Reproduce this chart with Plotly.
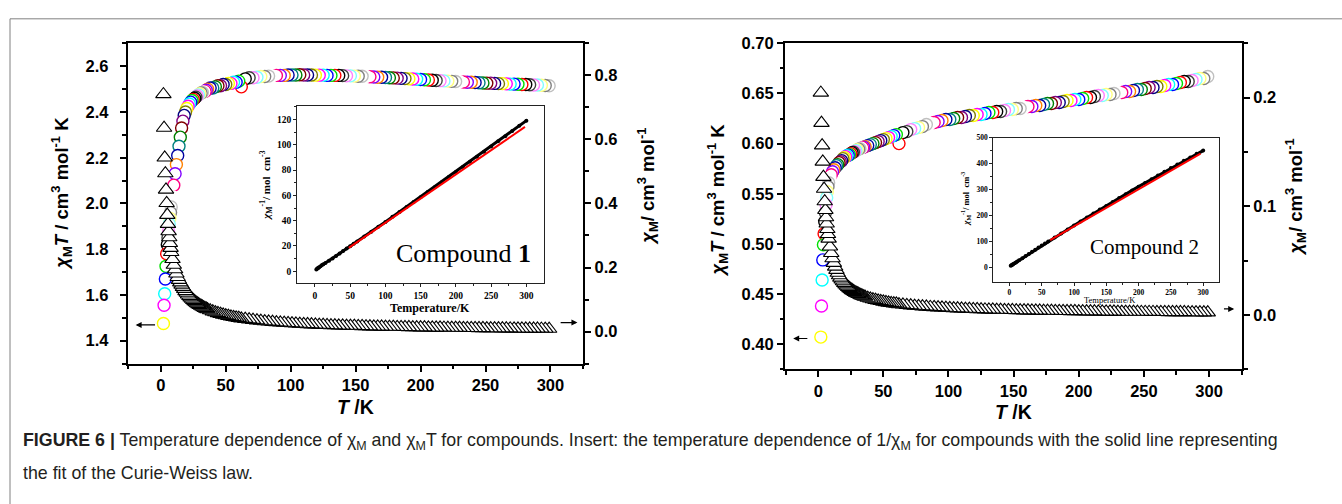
import plotly.graph_objects as go

W, H = 1342, 504

# ---------------- data ----------------
temperature = [2, 2.5, 3, 3.5, 4, 4.5, 5, 5.5, 6, 6.5, 7, 7.5, 8,
               9, 10, 11, 12, 13, 14, 15, 16, 17, 18, 19, 20,
               21, 22, 23, 24, 25, 26, 27, 28, 29, 30, 31, 32, 33, 34, 35, 36,
               38, 40, 42, 44, 46, 48, 50, 52, 54, 56, 58, 60,
               62, 65, 68, 71, 74, 77, 80, 83, 86, 89, 92, 95, 98, 101, 104, 107, 110, 113, 116, 119,
               122, 125, 128, 131, 134, 137, 140, 143, 146, 149, 152, 155, 158, 161, 164, 167, 170, 173, 176, 179,
               182, 185, 188, 191, 194, 197, 200, 203, 206, 209, 212, 215, 218, 221, 224, 227, 230, 233, 236, 239,
               242, 245, 248, 251, 254, 257, 260, 263, 266, 269, 272, 275, 278, 281, 284, 287, 290, 293, 296, 299]

# compound 1 : chi_M*T (left axis, circles)
chiT_1 = [1.475, 1.555, 1.605, 1.67, 1.725, 1.78, 1.82, 1.85, 1.88, 1.91, 1.935, 1.96, 1.985,
          2.03, 2.08, 2.13, 2.17, 2.21, 2.25, 2.29, 2.33, 2.36, 2.385, 2.40, 2.415,
          2.425, 2.435, 2.443, 2.45, 2.455, 2.46, 2.465, 2.47, 2.475, 2.48, 2.483, 2.485, 2.488, 2.49, 2.495, 2.50,
          2.505, 2.505, 2.51, 2.515, 2.515, 2.52, 2.52, 2.525, 2.525, 2.53, 2.53, 2.535,
          2.51, 2.545, 2.55, 2.55, 2.552, 2.555, 2.555, 2.557, 2.558, 2.56,
          2.56, 2.56, 2.562, 2.562, 2.562, 2.563, 2.562, 2.562, 2.562, 2.561,
          2.561, 2.561, 2.56, 2.56, 2.56, 2.56, 2.559, 2.558, 2.558, 2.557,
          2.556, 2.556, 2.555, 2.554, 2.553, 2.552, 2.552, 2.551, 2.55, 2.549,
          2.548, 2.547, 2.546, 2.545, 2.544, 2.543, 2.542, 2.541, 2.54, 2.539,
          2.538, 2.537, 2.536, 2.535, 2.534, 2.533, 2.532, 2.531, 2.53, 2.53,
          2.529, 2.528, 2.527, 2.526, 2.526, 2.525, 2.524, 2.524, 2.523, 2.522,
          2.522, 2.521, 2.52, 2.52, 2.519, 2.518, 2.518, 2.517, 2.516, 2.515]

# compound 1 : chi_M (right axis, triangles)
chi_1 = [0.741, 0.636, 0.543, 0.494, 0.443, 0.401, 0.364, 0.336, 0.313, 0.294, 0.276, 0.261, 0.248,
         0.226, 0.208, 0.194, 0.181, 0.170, 0.161, 0.153, 0.146, 0.139, 0.133, 0.126, 0.121,
         0.1155, 0.1107, 0.1062, 0.1021, 0.0982, 0.0946, 0.0913, 0.0882, 0.0853, 0.0827, 0.0801, 0.0777,
         0.0754, 0.0732, 0.0713, 0.0694,
         0.0659, 0.0626, 0.0598, 0.0572, 0.0547, 0.0525, 0.0504, 0.0486, 0.0468, 0.0452, 0.0436, 0.0423,
         0.0405, 0.0392, 0.0375, 0.0360, 0.0345, 0.0332, 0.0319, 0.0308, 0.0297, 0.0287,
         0.0278, 0.0269, 0.0261, 0.0253, 0.0246, 0.0239, 0.0233, 0.0227, 0.0221, 0.0215,
         0.0210, 0.0205, 0.0200, 0.0195, 0.0191, 0.0187, 0.0183, 0.0179, 0.0175, 0.0172,
         0.0168, 0.0165, 0.0162, 0.0159, 0.0156, 0.0153, 0.0150, 0.0148, 0.0145, 0.0143,
         0.0140, 0.0138, 0.0136, 0.0134, 0.0131, 0.0129, 0.0127, 0.0126, 0.0124, 0.0122,
         0.0120, 0.0118, 0.0117, 0.0115, 0.0113, 0.0112, 0.0110, 0.0109, 0.0107, 0.0106,
         0.0105, 0.0103, 0.0102, 0.0101, 0.00995, 0.00983, 0.00972, 0.00960, 0.00949, 0.00938,
         0.00928, 0.00918, 0.00908, 0.00898, 0.00888, 0.00879, 0.00869, 0.00860, 0.00851, 0.00842]

# compound 2 : chi_M*T
chiT_2 = [0.407, 0.438, 0.464, 0.484, 0.499, 0.510, 0.522, 0.531, 0.539, 0.546, 0.552, 0.557, 0.561,
          0.566, 0.569, 0.572, 0.574, 0.576, 0.578, 0.579, 0.581, 0.582, 0.583, 0.585, 0.586,
          0.587, 0.588, 0.5885, 0.589, 0.590, 0.591, 0.5915, 0.592, 0.593, 0.594, 0.5945, 0.595, 0.5955, 0.596,
          0.5965, 0.597,
          0.598, 0.599, 0.600, 0.601, 0.602, 0.603, 0.604, 0.605, 0.606, 0.607, 0.608, 0.609,
          0.600, 0.611, 0.612, 0.614, 0.615, 0.616, 0.617, 0.619, 0.620, 0.621,
          0.622, 0.623, 0.624, 0.624, 0.625, 0.626, 0.626, 0.627, 0.628, 0.628,
          0.629, 0.629, 0.630, 0.631, 0.631, 0.632, 0.632, 0.633, 0.634, 0.634,
          0.635, 0.635, 0.636, 0.637, 0.637, 0.638, 0.638, 0.639, 0.640, 0.640,
          0.641, 0.641, 0.642, 0.643, 0.643, 0.644, 0.644, 0.645, 0.646, 0.646,
          0.647, 0.648, 0.648, 0.649, 0.649, 0.650, 0.651, 0.651, 0.652, 0.652,
          0.653, 0.654, 0.654, 0.655, 0.656, 0.656, 0.657, 0.657, 0.658, 0.659,
          0.659, 0.660, 0.661, 0.662, 0.662, 0.663, 0.664, 0.665, 0.665, 0.667]

# compound 2 : chi_M
chi_2 = [0.2045, 0.1767, 0.156, 0.141, 0.127, 0.116, 0.1045, 0.0965, 0.0898, 0.0840, 0.0789, 0.0743, 0.0701,
         0.0629, 0.0569, 0.0520, 0.0478, 0.0443, 0.0413, 0.0386, 0.0363, 0.0342, 0.0324, 0.0308, 0.0293,
         0.0280, 0.0267, 0.0256, 0.0245, 0.0236, 0.0227, 0.0219, 0.0211, 0.0204, 0.0198, 0.0192, 0.0186,
         0.0180, 0.0175, 0.0170, 0.0166,
         0.0157, 0.0150, 0.0143, 0.0137, 0.0131, 0.0126, 0.0121, 0.0116, 0.0112, 0.0108, 0.0105, 0.0102,
         0.0097, 0.0094, 0.0090, 0.0086, 0.0083, 0.0080, 0.0077, 0.0075, 0.0072, 0.0070,
         0.0068, 0.0066, 0.0064, 0.0062, 0.0060, 0.0059, 0.0057, 0.0055, 0.0054, 0.0053,
         0.0052, 0.0050, 0.0049, 0.0048, 0.0047, 0.0046, 0.0045, 0.0044, 0.0043, 0.0043,
         0.0042, 0.0041, 0.0040, 0.0040, 0.0039, 0.0038, 0.0038, 0.0037, 0.0036, 0.0036,
         0.0035, 0.0035, 0.0034, 0.0034, 0.0033, 0.0033, 0.0032, 0.0032, 0.0031, 0.0031,
         0.0031, 0.0030, 0.0030, 0.0029, 0.0029, 0.0029, 0.0028, 0.0028, 0.0028, 0.0027,
         0.0027, 0.0027, 0.0026, 0.0026, 0.0026, 0.0026, 0.0025, 0.0025, 0.0025, 0.0024,
         0.0024, 0.0024, 0.0024, 0.0024, 0.0023, 0.0023, 0.0023, 0.0023, 0.0022, 0.0022]

# insets : 1/chi_M vs T
inset_T = [2, 3, 4, 5, 6, 8, 10, 12, 15, 20, 25, 30, 35, 40, 45, 50, 55, 60, 70, 80, 90,
           100, 110, 120, 130, 140, 150, 160, 170, 180, 190, 200, 210, 220, 230, 240, 250,
           260, 270, 280, 290, 300]
inv_chi_1 = [1.36, 1.87, 2.32, 2.75, 3.19, 3.98, 4.81, 5.53, 6.55, 8.28, 10.1, 12.1, 14.0, 15.9, 17.9,
             19.8, 21.7, 23.6, 27.5, 31.3, 35.2, 39.0, 43.0, 46.9, 50.8, 54.7, 58.6, 62.6, 66.5, 70.5,
             74.5, 78.5, 82.5, 86.6, 90.6, 94.6, 98.7, 102.8, 106.9, 111.0, 115.1, 119.2]
inv_chi_2 = [4.9, 6.5, 8.0, 9.6, 11.1, 14.3, 17.6, 20.9, 25.9, 34.1, 42.4, 50.5, 58.6, 66.8, 74.9,
             82.8, 90.8, 98.5, 114.3, 129.7, 145.0, 160.3, 175.7, 191.1, 206.7, 221.9, 236.2, 251.4, 266.5, 281.3,
             296.2, 310.6, 324.6, 339.5, 353.8, 368.1, 382.3, 396.3, 410.6, 423.6, 437.5, 450.0]
fit_T_1 = [48, 298]
fit_inv_1 = [18.4, 114.2]
fit_T_2 = [63, 296]
fit_inv_2 = [104, 438]

# tick labels
x_ticks = [0, 50, 100, 150, 200, 250, 300]
y1_ticks = [1.4, 1.6, 1.8, 2.0, 2.2, 2.4, 2.6]
y2_ticks = [0.0, 0.2, 0.4, 0.6, 0.8]
y3_ticks = [0.40, 0.45, 0.50, 0.55, 0.60, 0.65, 0.70]
y4_ticks = [0.0, 0.1, 0.2]
in1_y_ticks = [0, 20, 40, 60, 80, 100, 120]
in2_y_ticks = [0, 100, 200, 300, 400, 500]

# Origin default colour cycle
origin_colors = ["#000000", "#FF0000", "#00E000", "#0000FF", "#00FFFF", "#FF00FF", "#FFFF00", "#808000",
                 "#000080", "#800080", "#800000", "#008000", "#008080", "#0000A0", "#FF8000", "#8000FF",
                 "#FF0080", "#FFFFFF", "#C0C0C0", "#808080", "#FFFF80", "#80FFFF", "#FF80FF", "#404040"]

SANS = "Liberation Sans, Arial, Helvetica, sans-serif"
SERIF = "Liberation Serif, Times New Roman, serif"


def xd(a, b):
    return [a / W, b / W]


def yd(top, bot):
    return [1 - bot / H, 1 - top / H]


def px(v):
    return v / W


def py(v):
    return 1 - v / H


# measured-order colours: the lowest temperature point is yellow
n = len(temperature)
circle_cols = [origin_colors[(6 - i) % 24] for i in range(n)]

fig = go.Figure()

# main panel circles/triangles drawn from high T to low T (later points on top)
for xa, ya_l, ya_r, chiT, chi in [("x", "y", "y2", chiT_1, chi_1), ("x2", "y3", "y4", chiT_2, chi_2)]:
    fig.add_trace(go.Scatter(
        x=temperature[::-1], y=chiT[::-1], mode="markers", xaxis=xa, yaxis=ya_l,
        marker=dict(symbol="circle", size=12, color="white",
                    line=dict(color=circle_cols[::-1], width=1.4)),
        showlegend=False, hoverinfo="skip"))
    fig.add_trace(go.Scatter(
        x=temperature[::-1], y=chi[::-1], mode="markers", xaxis=xa, yaxis=ya_r,
        marker=dict(symbol="triangle-up", size=13.5, color="white",
                    line=dict(color="black", width=1.1)),
        showlegend=False, hoverinfo="skip"))

# insets
for xa, ya, inv, fT, fI in [("x3", "y5", inv_chi_1, fit_T_1, fit_inv_1), ("x4", "y6", inv_chi_2, fit_T_2, fit_inv_2)]:
    fig.add_trace(go.Scatter(x=inset_T, y=inv, mode="lines+markers", xaxis=xa, yaxis=ya,
                             line=dict(color="black", width=3),
                             marker=dict(symbol="circle", size=4, color="black"),
                             showlegend=False, hoverinfo="skip"))
    fig.add_trace(go.Scatter(x=fT, y=fI, mode="lines", xaxis=xa, yaxis=ya,
                             line=dict(color="#FF0000", width=2),
                             showlegend=False, hoverinfo="skip"))

main_font = dict(family=SANS, size=16.5, color="black", weight="bold")
minor_main = dict(ticks="outside", ticklen=3.5, tickwidth=1.5, tickcolor="black", showgrid=False)


def main_x(domain, anchor):
    return dict(domain=domain, anchor=anchor, range=[-25.5, 325.3], showline=True, linecolor="black",
                linewidth=2, mirror=True, ticks="outside", ticklen=6, tickwidth=1.6, tickcolor="black",
                tickvals=x_ticks, ticktext=[str(v) for v in x_ticks], tickfont=main_font,
                minor=dict(tickvals=[-25, 25, 75, 125, 175, 225, 275, 325], **minor_main),
                showgrid=False, zeroline=False)


def main_y(domain, anchor, rng, ticks, fmt, minor_vals, side="left", overlaying=None, standoff=None):
    d = dict(domain=domain, anchor=anchor, range=rng, showline=True, linecolor="black", linewidth=2,
             ticks="outside", ticklen=6, tickwidth=1.6, tickcolor="black", side=side,
             tickvals=ticks, ticktext=[fmt.format(v) for v in ticks], tickfont=main_font,
             minor=dict(tickvals=minor_vals, **minor_main), showgrid=False, zeroline=False)
    if overlaying:
        d["overlaying"] = overlaying
    if standoff is not None:
        d["ticklabelstandoff"] = standoff
    return d


inset_minor = dict(ticks="outside", ticklen=2, tickwidth=1, tickcolor="#222", showgrid=False)


def inset_x(domain, anchor, fsize, minor_vals, standoff=None):
    d = dict(domain=domain, anchor=anchor, range=[-25, 325], showline=True, linecolor="#222",
             linewidth=1.2, mirror=True, ticks="outside", ticklen=3, tickwidth=1, tickcolor="#222",
             tickvals=x_ticks, ticktext=[str(v) for v in x_ticks],
             tickfont=dict(family=SERIF, size=fsize, color="black", weight="bold"),
             minor=dict(tickvals=minor_vals, **inset_minor), showgrid=False, zeroline=False)
    if standoff is not None:
        d["ticklabelstandoff"] = standoff
    return d


def inset_y(domain, anchor, rng, ticks, fsize, minor_vals):
    return dict(domain=domain, anchor=anchor, range=rng, showline=True, linecolor="#222",
                linewidth=1.2, mirror=True, ticks="outside", ticklen=3, tickwidth=1, tickcolor="#222",
                tickvals=ticks, ticktext=[str(v) for v in ticks],
                tickfont=dict(family=SERIF, size=fsize, color="black", weight="bold"),
                minor=dict(tickvals=minor_vals, **inset_minor), showgrid=False, zeroline=False)


P1X, P1Y = xd(127.7, 583.3), yd(35, 361)
P2X, P2Y = xd(785, 1242), yd(35, 366.7)
I1X, I1Y = xd(297.3, 544), yd(99, 279.3)
I2X, I2Y = xd(993.3, 1219.3), yd(131, 277.7)

fig.update_layout(
    width=W, height=H, autosize=False,
    margin=dict(l=0, r=0, t=0, b=0),
    paper_bgcolor="white", plot_bgcolor="rgba(0,0,0,0)",
    xaxis=main_x(P1X, "y"),
    yaxis=main_y(P1Y, "x", [1.3, 2.7], y1_ticks, "{:.1f}",
                 [1.3, 1.5, 1.7, 1.9, 2.1, 2.3, 2.5, 2.7], standoff=8),
    yaxis2=main_y(P1Y, "x", [-0.1, 0.9], y2_ticks, "{:.1f}",
                  [-0.1, 0.1, 0.3, 0.5, 0.7, 0.9], side="right", overlaying="y"),
    xaxis2=main_x(P2X, "y3"),
    yaxis3=main_y(P2Y, "x2", [0.375, 0.70], y3_ticks, "{:.2f}",
                  [0.375, 0.425, 0.475, 0.525, 0.575, 0.625, 0.675]),
    yaxis4=main_y(P2Y, "x2", [-0.05, 0.25], y4_ticks, "{:.1f}",
                  [-0.05, 0.05, 0.15, 0.25], side="right", overlaying="y3"),
    xaxis3=inset_x(I1X, "y5", 9.5, [25, 75, 125, 175, 225, 275]),
    yaxis5=inset_y(I1Y, "x3", [-9.6, 130.6], in1_y_ticks, 9.5, [10, 30, 50, 70, 90, 110, 130]),
    xaxis4=inset_x(I2X, "y6", 7.5, [25, 75, 125, 175, 225, 275], standoff=0),
    yaxis6=inset_y(I2Y, "x4", [-57, 500], in2_y_ticks, 7.5, [50, 150, 250, 350, 450]),
)

ann = []


def text(t, x, y, size, family=SANS, angle=0, bold=True, xanchor="center", color="black"):
    ann.append(dict(text=t, x=px(x), y=py(y), xref="paper", yref="paper", showarrow=False,
                    textangle=angle, xanchor=xanchor, yanchor="middle",
                    font=dict(family=family, size=size, color=color, weight="bold" if bold else "normal")))


left_title = "<i>χ</i><sub>M</sub><i>T</i> / cm<sup>3</sup> mol<sup>-1</sup> K"
right_title = "<i>χ</i><sub>M</sub>/ cm<sup>3</sup> mol<sup>-1</sup>"
x_title = "<i>T</i> /K"
text(left_title, 62, 188, 18.5, angle=-90)
text(left_title, 718, 195, 18.5, angle=-90)
text(right_title, 648, 181, 18.5, angle=-90)
text(right_title, 1296, 192, 18.5, angle=-90)
text(x_title, 355.5, 405, 19.5)
text(x_title, 1013.5, 410, 19.5)

# inset labels
inset_y_title = "<i>χ</i><sub>M</sub><sup>-1</sup>/ mol  cm<sup>-3</sup>"
text(inset_y_title, 266, 180, 11, family=SERIF, angle=-90)
text("Temperature/K", 430, 304, 12, family=SERIF)
text(inset_y_title, 966, 193, 8.5, family=SERIF, angle=-90)
text("Temperature/K", 1110, 296, 8.5, family=SERIF, bold=False)
text("Compound <b>1</b>", 463, 249, 26, family=SERIF, bold=False)
text("Compound 2", 1144, 242, 21, family=SERIF, bold=False)

# caption
cap1 = ("<b>FIGURE 6 |</b> Temperature dependence of χ<sub>M</sub> and χ<sub>M</sub>T for compounds. "
        "Insert: the temperature dependence of 1/χ<sub>M</sub> for compounds with the solid line representing")
cap2 = "the fit of the Curie-Weiss law."
text(cap1, 21, 440, 17.8, bold=False, xanchor="left", color="#231f20")
text(cap2, 21, 472, 17.8, bold=False, xanchor="left", color="#231f20")

# arrows marking which axis each curve belongs to
arrows = [("x", "y", -19.4, -3.3, 1.469), ("x", "y2", 320.8, 306.7, 0.028),
          ("x2", "y3", -19.2, -7.2, 0.4056), ("x2", "y4", 319.3, 310.3, 0.0055)]
for xa, ya, head, tail, yv in arrows:
    ann.append(dict(x=head, y=yv, ax=tail, ay=yv, xref=xa, yref=ya, axref=xa, ayref=ya,
                    showarrow=True, arrowhead=2, arrowsize=1, arrowwidth=1.2, arrowcolor="black",
                    standoff=0, startstandoff=0, text=""))

fig.update_layout(annotations=ann)

# figure frame (left and top edges visible)
fig.add_shape(type="rect", xref="paper", yref="paper", x0=px(10), x1=1.05, y0=-0.1, y1=py(10),
              line=dict(color="#808080", width=1), fillcolor="rgba(0,0,0,0)", layer="below")

fig.write_html("out.html", config={"displayModeBar": False},
               post_script="document.body.style.margin='0px';document.body.style.padding='0px';")
